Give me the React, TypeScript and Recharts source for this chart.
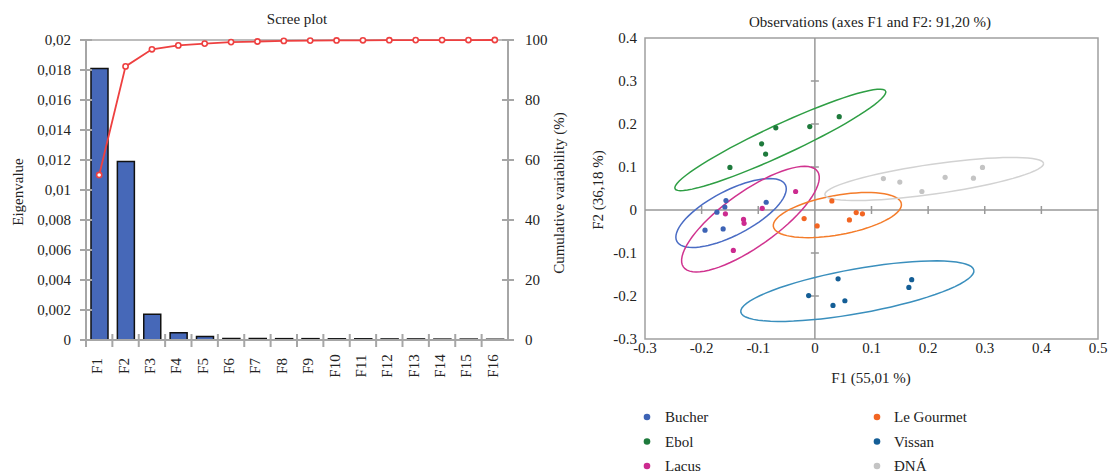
import React from "react"
import {
  ComposedChart, Bar, Line, XAxis, YAxis, ReferenceLine, ReferenceDot, ReferenceArea,
  ScatterChart, Scatter,
} from "recharts"

// ---- scree plot data ----
const factors = ["F1", "F2", "F3", "F4", "F5", "F6", "F7", "F8", "F9", "F10", "F11", "F12", "F13", "F14", "F15", "F16"]
const eigenvalues = [0.0181, 0.0119, 0.00172, 0.00048, 0.00024, 0.0001, 0.0001, 0.00009, 0.00009, 0.00008, 0.00008, 0.00007, 0.00007, 0.00006, 0.00006, 0.00005]
const cumulative = [55.01, 91.2, 96.9, 98.2, 98.8, 99.3, 99.5, 99.7, 99.8, 99.85, 99.9, 99.93, 99.96, 99.98, 99.99, 100]
const eigenTicks = [0, 0.002, 0.004, 0.006, 0.008, 0.01, 0.012, 0.014, 0.016, 0.018, 0.02]
const cumTicks = [0, 20, 40, 60, 80, 100]

// ---- observations data (F1, F2) ----
const bucher = [[-0.157, 0.022], [-0.159, 0.007], [-0.173, -0.005], [-0.194, -0.047], [-0.162, -0.044], [-0.086, 0.018]]
const ebol = [[-0.15, 0.099], [-0.094, 0.154], [-0.087, 0.13], [-0.069, 0.191], [-0.009, 0.194], [0.043, 0.217]]
const lacus = [[-0.158, -0.009], [-0.126, -0.022], [-0.125, -0.031], [-0.093, 0.004], [-0.034, 0.043], [-0.144, -0.094]]
const leGourmet = [[0.03, 0.021], [-0.019, -0.02], [0.004, -0.037], [0.061, -0.023], [0.073, -0.006], [0.084, -0.009]]
const vissan = [[-0.011, -0.199], [0.041, -0.16], [0.032, -0.222], [0.053, -0.211], [0.171, -0.162], [0.166, -0.18]]
const dna = [[0.121, 0.073], [0.15, 0.065], [0.189, 0.043], [0.23, 0.076], [0.28, 0.074], [0.296, 0.099]]

// confidence ellipses: center x, center y, half-axis 1 (dx, dy), half-axis 2 (dx, dy)
const bucherEllipse = [-0.148, -0.007, 0.0959, 0.0655, 0.0176, -0.0463]
const ebolEllipse = [-0.061, 0.163, 0.186, 0.1135, 0.0109, -0.0323]
const lacusEllipse = [-0.1138, -0.0213, 0.1185, 0.1111, 0.0273, -0.0523]
const leGourmetEllipse = [0.0397, -0.0118, 0.113, 0.0267, 0.0059, -0.0452]
const vissanEllipse = [0.075, -0.1887, 0.2058, 0.0487, 0.0067, -0.051]
const dnaEllipse = [0.2108, 0.0721, 0.1931, 0.0364, 0.0036, -0.0344]

const obsXTicks = [-0.3, -0.2, -0.1, 0, 0.1, 0.2, 0.3, 0.4, 0.5]
const obsXLabels = ["-0.3", "-0.2", "-0.1", "0", "0.1", "0.2", "0.3", "0.4", "0.5"]
const obsYTicks = [-0.3, -0.2, -0.1, 0, 0.1, 0.2, 0.3, 0.4]
const obsYLabels = ["-0.3", "-0.2", "-0.1", "0", "0.1", "0.2", "0.3", "0.4"]

const groups = [
  { name: "Bucher", pts: bucher, ell: bucherEllipse, dot: "#3d63b5", line: "#4a6cc4" },
  { name: "Ebol", pts: ebol, ell: ebolEllipse, dot: "#1e7a3c", line: "#2e9e44" },
  { name: "Lacus", pts: lacus, ell: lacusEllipse, dot: "#cc2a8f", line: "#d0338f" },
  { name: "Le Gourmet", pts: leGourmet, ell: leGourmetEllipse, dot: "#f26522", line: "#f47c2a" },
  { name: "Vissan", pts: vissan, ell: vissanEllipse, dot: "#145e96", line: "#3a8fbd" },
  { name: "ĐNÁ", pts: dna, ell: dnaEllipse, dot: "#c4c4c4", line: "#d2d2d2" },
]

const screeData = factors.map((f, i) => ({ name: f, eig: eigenvalues[i], cum: cumulative[i] }))

function ellipseOutline(e: number[]) {
  const [cx, cy, ax, ay, bx, by] = e
  const out = []
  for (let k = 0; k <= 72; k++) {
    const t = (k / 72) * Math.PI * 2
    out.push({ x: cx + ax * Math.cos(t) + bx * Math.sin(t), y: cy + ay * Math.cos(t) + by * Math.sin(t) })
  }
  return out
}

const GRAY = "#a6a6a6"
const INK = "#222"
const SERIF = "'Liberation Serif', 'DejaVu Serif', serif"
const fmtEig = (v: number) => Number(v.toFixed(3)).toString().replace(".", ",")

const LeftTick = ({ x, y, payload }: any) => (
  <g>
    <line x1={x - 6} x2={x + 6} y1={y} y2={y} stroke={GRAY} strokeWidth={2} />
    <text x={x - 15} y={y} dy="0.35em" textAnchor="end" fontSize={15} fontFamily={SERIF} fill={INK}>{fmtEig(payload.value)}</text>
  </g>
)

const RightTick = ({ x, y, payload }: any) => (
  <g>
    <line x1={x - 6} x2={x + 6} y1={y} y2={y} stroke={GRAY} strokeWidth={2} />
    <text x={x + 17} y={y} dy="0.35em" textAnchor="start" fontSize={15} fontFamily={SERIF} fill={INK}>{payload.value}</text>
  </g>
)

const FactorTick = ({ x, y, payload }: any) => {
  const off = payload.offset ?? 13.2
  return (
    <g>
      <line x1={x - off} x2={x - off} y1={y - 6} y2={y + 7} stroke={GRAY} strokeWidth={2} />
      <text x={x - 2} y={y + 26} transform={`rotate(-90 ${x - 2} ${y + 26})`} textAnchor="middle" dominantBaseline="central" fontSize={15} fontFamily={SERIF} fill={INK}>
        {payload.value}
      </text>
    </g>
  )
}

const ObsTick = ({ x, y, payload, labels, ticks, axis }: any) => {
  const i = ticks.findIndex((t: number) => Math.abs(t - payload.value) < 1e-9)
  return axis === "x" ? (
    <text x={x} y={y + 6} textAnchor="middle" fontSize={15} fontFamily={SERIF} fill={INK}>{labels[i]}</text>
  ) : (
    <text x={x} y={y} dy="0.35em" textAnchor="end" fontSize={15} fontFamily={SERIF} fill={INK}>{labels[i]}</text>
  )
}

function ScreePlot() {
  return (
    <ComposedChart width={600} height={400} data={screeData} margin={{ top: 40, right: 0, bottom: 20, left: 0 }}>
      <XAxis dataKey="name" interval={0} height={40} tickSize={0} tickMargin={0} axisLine={{ stroke: GRAY, strokeWidth: 2 }} tick={<FactorTick />} />
      <YAxis yAxisId="left" width={86} domain={[0, 0.02]} ticks={eigenTicks} tickSize={0} tickMargin={0} axisLine={{ stroke: GRAY, strokeWidth: 2 }} tick={<LeftTick />} />
      <YAxis yAxisId="right" orientation="right" width={92} domain={[0, 100]} ticks={cumTicks} tickSize={0} tickMargin={0} axisLine={{ stroke: GRAY, strokeWidth: 2 }} tick={<RightTick />} />
      <ReferenceLine yAxisId="left" y={0.02} stroke={GRAY} strokeWidth={1.5} />
      <Bar yAxisId="left" dataKey="eig" barSize={17} fill="#4668b8" stroke="#111" strokeWidth={1.5} isAnimationActive={false} />
      <Line yAxisId="right" dataKey="cum" type="linear" stroke="#ee4040" strokeWidth={1.8}
        dot={{ r: 2.6, fill: "#fff", stroke: "#ee4040", strokeWidth: 1.6 }} isAnimationActive={false} />
      <text x={297} y={24} textAnchor="middle" fontSize={15} fontFamily={SERIF} fill={INK}>Scree plot</text>
      <text x={18} y={192} transform="rotate(-90 18 192)" textAnchor="middle" dominantBaseline="central" fontSize={15} fontFamily={SERIF} fill={INK}>Eigenvalue</text>
      <text x={559} y={193} transform="rotate(-90 559 193)" textAnchor="middle" dominantBaseline="central" fontSize={15} fontFamily={SERIF} fill={INK}>Cumulative variability (%)</text>
    </ComposedChart>
  )
}

const vMark = (p: any) => <line x1={p.cx} x2={p.cx} y1={p.cy - 4} y2={p.cy + 4} stroke="#999" strokeWidth={1.5} />
const hMark = (p: any) => <line x1={p.cx - 4} x2={p.cx + 4} y1={p.cy} y2={p.cy} stroke="#999" strokeWidth={1.5} />
const noShape = () => <g />
const smallDot = (p: any) => <circle cx={p.cx} cy={p.cy} r={2.6} fill={p.fill} />

function ObservationsPlot() {
  const legendCols = [[0, 1, 2], [3, 4, 5]]
  return (
    <ScatterChart width={548} height={474} margin={{ top: 38, right: 10, bottom: 85, left: 0 }}>
      <XAxis type="number" dataKey="x" domain={[-0.3, 0.5]} ticks={obsXTicks} height={50} axisLine={false} tickLine={false}
        tick={<ObsTick axis="x" ticks={obsXTicks} labels={obsXLabels} />} />
      <YAxis type="number" dataKey="y" domain={[-0.3, 0.4]} ticks={obsYTicks} width={85} axisLine={false} tickLine={false}
        tick={<ObsTick axis="y" ticks={obsYTicks} labels={obsYLabels} />} />
      <ReferenceArea x1={-0.3} x2={0.5} y1={-0.3} y2={0.4} fill="none" stroke="#a0a0a0" strokeWidth={1.5} />
      <ReferenceLine x={0} stroke="#999" strokeWidth={1.5} />
      <ReferenceLine y={0} stroke="#999" strokeWidth={1.5} />
      {[-0.2, -0.1, 0.1, 0.2, 0.3, 0.4].map((v) => (
        <ReferenceDot key={"vx" + v} x={v} y={0} shape={vMark} />
      ))}
      {[-0.2, -0.1, 0.1, 0.2, 0.3].map((v) => (
        <ReferenceDot key={"hy" + v} x={0} y={v} shape={hMark} />
      ))}
      {groups.map((g) => (
        <Scatter key={"e" + g.name} data={ellipseOutline(g.ell)} fill={g.line} line={{ stroke: g.line, strokeWidth: 1.5 }} lineType="joint"
          shape={noShape} isAnimationActive={false} />
      ))}
      {groups.map((g) => (
        <Scatter key={"p" + g.name} data={g.pts.map(([x, y]) => ({ x, y }))} fill={g.dot} shape={smallDot} isAnimationActive={false} />
      ))}
      <text x={310} y={27} textAnchor="middle" fontSize={15} fontFamily={SERIF} fill={INK}>Observations (axes F1 and F2: 91,20 %)</text>
      <text x={311} y={383} textAnchor="middle" fontSize={15} fontFamily={SERIF} fill={INK}>F1 (55,01 %)</text>
      <text x={38} y={190} transform="rotate(-90 38 190)" textAnchor="middle" dominantBaseline="central" fontSize={15} fontFamily={SERIF} fill={INK}>F2 (36,18 %)</text>
      {legendCols.map((col, ci) =>
        col.map((gi, ri) => (
          <g key={groups[gi].name}>
            <circle cx={87 + ci * 230} cy={417 + ri * 24.5} r={3.3} fill={groups[gi].dot} />
            <text x={105 + ci * 229} y={417 + ri * 24.5} dy="0.35em" fontSize={15} fontFamily={SERIF} fill={INK}>{groups[gi].name}</text>
          </g>
        ))
      )}
    </ScatterChart>
  )
}

export default function App() {
  return (
    <div style={{ position: "absolute", left: 0, top: 0, width: 1108, height: 474, background: "#fff", fontFamily: SERIF }}>
      <div style={{ position: "absolute", left: 0, top: 0 }}>
        <ScreePlot />
      </div>
      <div style={{ position: "absolute", left: 560, top: 0 }}>
        <ObservationsPlot />
      </div>
    </div>
  )
}
